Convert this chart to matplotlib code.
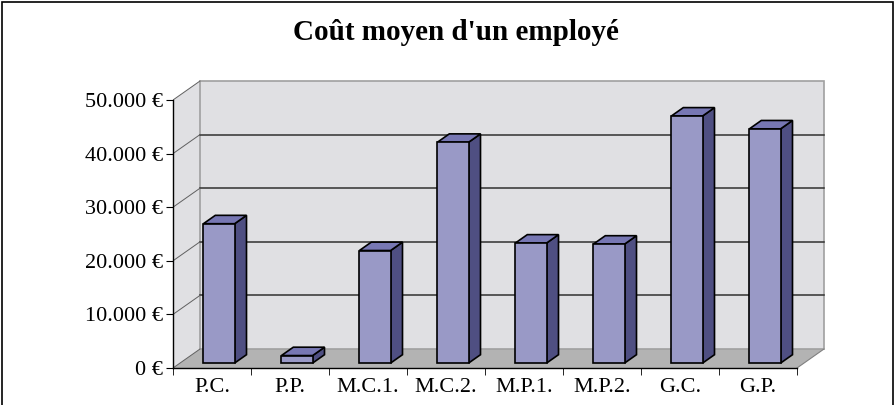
import matplotlib
matplotlib.use("Agg")
import matplotlib.pyplot as plt
from matplotlib.patches import Polygon, Rectangle

# data
categories = ["P.C.", "P.P.", "M.C.1.", "M.C.2.", "M.P.1.", "M.P.2.", "G.C.", "G.P."]
values = [26000, 1400, 21000, 41200, 22400, 22200, 46100, 43700]
yticks = [0, 10000, 20000, 30000, 40000, 50000]
title = "Coût moyen d'un employé"

plt.rcParams["font.family"] = ["Liberation Serif", "DejaVu Serif"]

W, H = 895, 405
fig = plt.figure(figsize=(W / 100, H / 100), dpi=100)

# front plane geometry in pixels
x0_px, y0_px = 173, 368
px_per_cat = 78
px_per_val = 5.36 / 1000
right_px, top_px = 845, 60
ax = fig.add_axes([x0_px / W, (H - y0_px) / H, (right_px - x0_px) / W, (y0_px - top_px) / H])
n = len(categories)
ax.set_xlim(0, (right_px - x0_px) / px_per_cat)
ax.set_ylim(0, (y0_px - top_px) / px_per_val)
ax.patch.set_visible(False)

# depth offset of the back wall
DX = 27 / px_per_cat
DY = 19 / px_per_val
ymax = yticks[-1]

wall = "#e0e0e3"
floor = "#b3b3b3"
edge = "#a0a0a0"

# left wall, back wall, floor
ax.add_patch(Polygon([(0, 0), (DX, DY), (DX, ymax + DY), (0, ymax)], closed=True,
                     facecolor=wall, edgecolor="none", zorder=1))
ax.add_patch(Rectangle((DX, DY), n, ymax, facecolor=wall, edgecolor=edge, lw=1.2, zorder=2))
ax.add_patch(Polygon([(0, 0), (n, 0), (n + DX, DY), (DX, DY)], closed=True,
                     facecolor=floor, edgecolor="none", zorder=1))
ax.plot([n, n + DX], [0, DY], color="#808080", lw=0.8, zorder=2)

# gridlines on back wall and left wall
for v in yticks[1:-1]:
    ax.plot([DX, n + DX], [v + DY, v + DY], color="#303030", lw=1.1, zorder=2)
for v in yticks:
    ax.plot([0, DX], [v, v + DY], color="#606060", lw=0.7, zorder=2)

# 3D bars
f0, f1 = 0.26, 0.70
bw = 0.40
front_c, side_c, top_c = "#9999c6", "#4f4f82", "#7777b3"
for i, v in enumerate(values):
    xl = i + 0.5 - bw / 2 + f0 * DX
    xr = xl + bw
    yb = f0 * DY
    yt = v + f0 * DY
    ddx = (f1 - f0) * DX
    ddy = (f1 - f0) * DY
    ax.add_patch(Polygon([(xr, yb), (xr + ddx, yb + ddy), (xr + ddx, yt + ddy), (xr, yt)],
                         closed=True, facecolor=side_c, edgecolor="black", lw=1.2, zorder=3))
    ax.add_patch(Polygon([(xl, yt), (xr, yt), (xr + ddx, yt + ddy), (xl + ddx, yt + ddy)],
                         closed=True, facecolor=top_c, edgecolor="black", lw=1.2, zorder=3))
    ax.add_patch(Rectangle((xl, yb), bw, v, facecolor=front_c, edgecolor="black", lw=1.2, zorder=4))

# axes
for s in ["top", "right"]:
    ax.spines[s].set_visible(False)
ax.spines["left"].set_bounds(0, ymax)
ax.spines["bottom"].set_bounds(0, n)
for s in ["left", "bottom"]:
    ax.spines[s].set_linewidth(1.0)
    ax.spines[s].set_zorder(5)

ax.set_yticks(yticks)
ax.set_yticklabels([f"{v:,}".replace(",", ".") + " €" for v in yticks], fontsize=16)
ax.tick_params(axis="y", direction="out", length=5, pad=2)

ax.set_xticks([i + 0.5 for i in range(n)])
ax.set_xticklabels(categories, fontsize=16)
ax.set_xticks(list(range(n + 1)), minor=True)
ax.tick_params(axis="x", which="major", length=0, pad=7)
ax.tick_params(axis="x", which="minor", direction="out", length=5)

fig.text(456 / W, 1 - 33 / H, title, ha="center", va="center", fontsize=21, fontweight="bold")

# chart frame
fig.add_artist(Rectangle((2 / W, -0.05), (W - 4) / W, 1.05 - 2 / H, transform=fig.transFigure,
                         fill=False, edgecolor="black", lw=1.2))

fig.savefig("out.png", dpi=100)
